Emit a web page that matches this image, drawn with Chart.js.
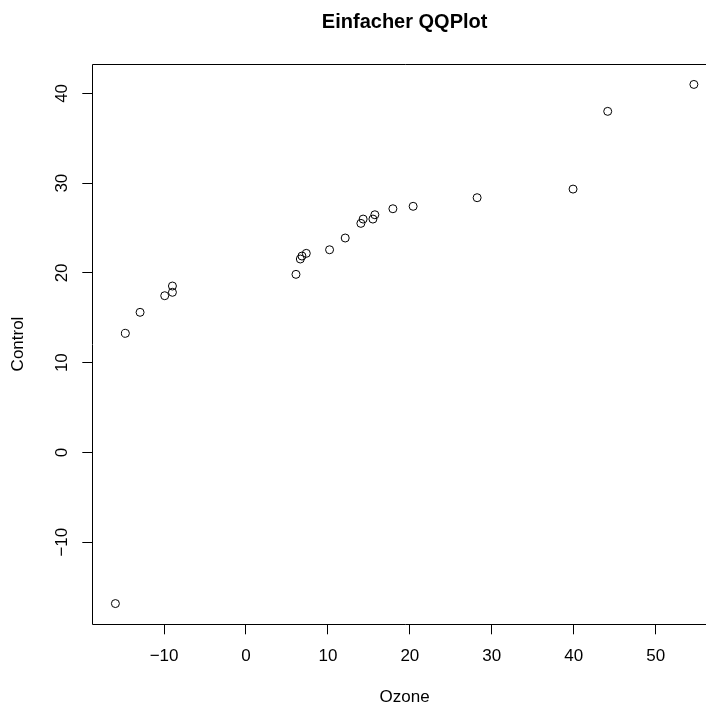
<!DOCTYPE html>
<html>
<head>
<meta charset="utf-8">
<script src="https://cdn.jsdelivr.net/npm/chart.js@4"></script>
<style>
  body { margin: 0; background: #fff; overflow: hidden; }
  #wrap { width: 706px; height: 706px; overflow: hidden; }
</style>
</head>
<body>
<div id="wrap"><canvas id="qq" width="717" height="706"></canvas></div>
<script>
// sorted sample quantiles
const ozone = [-15.94, -14.72, -12.93, -9.92, -8.98, -8.98, 6.10, 6.63, 6.83, 7.36, 10.2,
  12.11, 14.02, 14.3, 15.49, 15.73, 17.93, 20.4, 28.21, 39.92, 44.15, 54.67];
const control = [-16.84, 13.27, 15.61, 17.46, 17.84, 18.54, 19.84, 21.55, 21.88, 22.18, 22.58,
  23.89, 25.52, 26.0, 26.0, 26.48, 27.15, 27.42, 28.38, 29.34, 38.0, 41.0];
const xTicks = [-10, 0, 10, 20, 30, 40, 50];
const yTicks = [-10, 0, 10, 20, 30, 40];

const font = { family: "'Liberation Sans', Arial, sans-serif", size: 17 };
const minus = v => String(v).replace("-", "\u2212");

// R style box round the plot region; its right side lies past the cropped edge
const boxPlugin = {
  id: "box",
  afterDraw(chart) {
    const a = chart.chartArea, c = chart.ctx;
    const l = Math.round(a.left) + 0.5, t = Math.round(a.top) + 0.5, b = Math.round(a.bottom) + 0.5;
    c.save();
    c.strokeStyle = "#000";
    c.lineWidth = 1;
    c.beginPath();
    c.moveTo(a.right + 5, t);
    c.lineTo(l, t);
    c.lineTo(l, b);
    c.lineTo(a.right + 5, b);
    c.stroke();
    c.restore();
  }
};

const axisCommon = {
  type: "linear",
  border: { display: false },
  grid: { display: true, drawOnChartArea: false, drawTicks: true, tickLength: 10, color: "#000", tickColor: "#000" }
};

new Chart(document.getElementById("qq"), {
  type: "scatter",
  data: {
    datasets: [{
      data: ozone.map((x, i) => ({ x, y: control[i] })),
      pointStyle: "circle",
      pointRadius: 4,
      borderColor: "#000",
      borderWidth: 1,
      backgroundColor: "rgba(0,0,0,0)"
    }]
  },
  options: {
    responsive: false,
    animation: false,
    layout: { autoPadding: false, padding: 0 },
    plugins: {
      legend: { display: false },
      tooltip: { enabled: false },
      title: {
        display: true,
        text: "Einfacher QQPlot",
        fullSize: false,
        color: "#000",
        font: { family: font.family, size: 20, weight: "bold", lineHeight: 1.2 },
        padding: { top: 10, bottom: 29.7 }
      }
    },
    scales: {
      x: {
        ...axisCommon,
        min: -18.76, max: 57.49,
        afterBuildTicks: s => { s.ticks = xTicks.map(value => ({ value })); },
        afterFit: s => { s.height = 81.7; },
        ticks: { color: "#000", font, padding: 12, callback: minus },
        title: { display: true, text: "Ozone", color: "#000", font: { ...font, lineHeight: 1 }, padding: 0 }
      },
      y: {
        ...axisCommon,
        min: -19.15, max: 43.31,
        afterBuildTicks: s => { s.ticks = yTicks.map(value => ({ value })); },
        afterFit: s => { s.width = 92.3; },
        ticks: { color: "#000", font, padding: 6, minRotation: 90, crossAlign: "center", callback: minus },
        title: { display: true, text: "Control", color: "#000", font: { ...font, lineHeight: 1 }, padding: { top: 10, bottom: 0 } }
      }
    }
  },
  plugins: [boxPlugin]
});
</script>
</body>
</html>
